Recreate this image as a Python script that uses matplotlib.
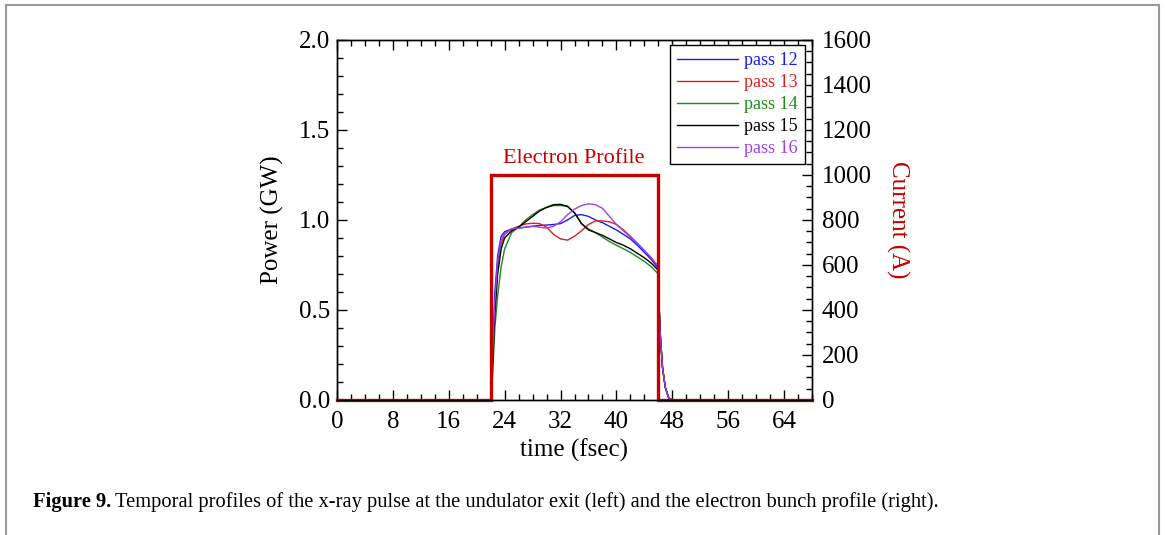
import matplotlib
matplotlib.use("Agg")
import matplotlib.pyplot as plt
from matplotlib.lines import Line2D
from matplotlib.ticker import MultipleLocator

plt.rcParams['font.family'] = ['Liberation Serif', 'DejaVu Serif']

# ---------------- data ----------------
time = [0, 22.0, 22.3, 22.6, 23.0, 23.5, 24.0, 25, 26, 27, 28, 29, 30, 31, 32, 33,
        34, 35, 36, 37, 38, 39, 40, 41, 42, 43, 44, 45, 46.0, 46.1, 46.3, 46.6,
        47.0, 47.5, 48.0, 68]

pass12 = [0, 0, 0.30, 0.60, 0.80, 0.91, 0.935, 0.95, 0.955, 0.96, 0.965, 0.97, 0.972,
          0.975, 0.98, 1.00, 1.025, 1.03, 1.02, 1.00, 0.985, 0.965, 0.945, 0.92, 0.895,
          0.86, 0.82, 0.78, 0.73, 0.53, 0.35, 0.18, 0.07, 0.01, 0, 0]
pass13 = [0, 0, 0.25, 0.52, 0.74, 0.87, 0.92, 0.95, 0.965, 0.978, 0.982, 0.98, 0.96,
          0.92, 0.895, 0.888, 0.91, 0.94, 0.975, 0.995, 0.995, 0.99, 0.975, 0.945, 0.91,
          0.87, 0.83, 0.79, 0.74, 0.53, 0.35, 0.18, 0.07, 0.01, 0, 0]
pass14 = [0, 0, 0.15, 0.40, 0.58, 0.74, 0.84, 0.93, 0.96, 1.00, 1.03, 1.055, 1.07,
          1.08, 1.08, 1.078, 1.04, 0.98, 0.95, 0.93, 0.905, 0.88, 0.86, 0.84, 0.82,
          0.795, 0.77, 0.74, 0.70, 0.53, 0.35, 0.18, 0.07, 0.01, 0, 0]
pass15 = [0, 0, 0.22, 0.48, 0.70, 0.84, 0.90, 0.94, 0.96, 0.99, 1.02, 1.05, 1.07,
          1.085, 1.087, 1.075, 1.04, 0.98, 0.945, 0.93, 0.915, 0.895, 0.875, 0.86, 0.84,
          0.815, 0.79, 0.76, 0.72, 0.53, 0.35, 0.18, 0.07, 0.01, 0, 0]
pass16 = [0, 0, 0.27, 0.55, 0.77, 0.89, 0.925, 0.95, 0.955, 0.96, 0.965, 0.96, 0.955,
          0.965, 0.99, 1.03, 1.06, 1.08, 1.09, 1.085, 1.065, 1.02, 0.975, 0.94, 0.905,
          0.87, 0.83, 0.79, 0.74, 0.53, 0.35, 0.18, 0.07, 0.01, 0, 0]

series_labels = ["pass 12", "pass 13", "pass 14", "pass 15", "pass 16"]
series_colors = ["#1a1aee", "#dd1f1f", "#1a8c1a", "#000000", "#a23ee6"]

profile_time = [0, 22, 22, 46, 46, 68]
profile_current = [0, 0, 1000, 1000, 0, 0]

x_ticks = [0, 8, 16, 24, 32, 40, 48, 56, 64]

# ---------------- figure ----------------
fig = plt.figure(figsize=(11.65, 5.35), dpi=100)
ax = fig.add_axes([337/1165, 1 - 400/535, (812-337)/1165, (400-40)/535])
ax2 = ax.twinx()

for ys, lab, col in zip([pass12, pass13, pass14, pass15, pass16], series_labels, series_colors):
    ax.plot(time, ys, color=col, lw=1.0, label=lab)

ax2.plot(profile_time, profile_current, color="#c40000", lw=2.4, clip_on=False,
         solid_joinstyle='miter')

ax.set_xlim(0, 68)
ax.set_ylim(0, 2.0)
ax2.set_ylim(0, 1600)

ax.set_xticks(x_ticks)
ax.xaxis.set_minor_locator(MultipleLocator(2))
ax.yaxis.set_major_locator(MultipleLocator(0.5))
ax.yaxis.set_minor_locator(MultipleLocator(0.1))
ax.yaxis.set_major_formatter(matplotlib.ticker.FormatStrFormatter('%.1f'))
ax2.yaxis.set_major_locator(MultipleLocator(200))
ax2.yaxis.set_minor_locator(MultipleLocator(50))

ax.tick_params(axis='both', which='both', direction='in', top=True, right=False,
               labelsize=18, width=1.0)
ax.tick_params(axis='both', which='major', length=7.5)
ax.tick_params(axis='both', which='minor', length=4.5)
ax.tick_params(axis='x', pad=8)
ax.tick_params(axis='y', pad=5)
ax2.tick_params(axis='y', which='both', direction='in', labelsize=18, width=1.0, pad=7)
ax2.tick_params(axis='y', which='major', length=7.5)
ax2.tick_params(axis='y', which='minor', length=4.5)

for a in (ax, ax2):
    for s in a.spines.values():
        s.set_linewidth(1.0)

ax.set_xlabel("time (fsec)", fontsize=18, labelpad=4)
ax.set_ylabel("Power (GW)", fontsize=18, labelpad=11)
ax2.set_ylabel("Current (A)", fontsize=18, color="#c40000", rotation=270, labelpad=27)

ax2.text(33.9, 1030, "Electron Profile", color="#c40000", fontsize=16,
         ha='center', va='bottom')

handles, labels = ax.get_legend_handles_labels()
leg = ax2.legend(handles, labels, loc='upper right', bbox_to_anchor=(0.985, 0.986),
                 fontsize=13, frameon=True, fancybox=False, framealpha=1,
                 edgecolor='black', handlelength=3.4, handletextpad=0.35,
                 labelspacing=0.28, borderpad=0.38, borderaxespad=0)
leg.get_frame().set_linewidth(1.0)
for txt, col in zip(leg.get_texts(), series_colors):
    txt.set_color(col)

# caption
t1 = fig.text(33/1165, 1 - 512/535, "Figure 9.", fontsize=14.8, fontweight='bold',
              ha='left', va='bottom')
ax.annotate("Temporal profiles of the x-ray pulse at the undulator exit (left) and the electron bunch profile (right).",
            xy=(1, 0), xycoords=t1, xytext=(3, 0), textcoords='offset points',
            fontsize=14.8, ha='left', va='bottom', annotation_clip=False)

# page frame
fc = "#999999"
fig.add_artist(Line2D([6/1165, 6/1165], [0, 1 - 5/535], transform=fig.transFigure, color=fc, lw=1.5))
fig.add_artist(Line2D([6/1165, 1159/1165], [1 - 5/535, 1 - 5/535], transform=fig.transFigure, color=fc, lw=1.5))
fig.add_artist(Line2D([1159/1165, 1159/1165], [0, 1 - 5/535], transform=fig.transFigure, color=fc, lw=1.5))

fig.savefig("out.png", dpi=100)
